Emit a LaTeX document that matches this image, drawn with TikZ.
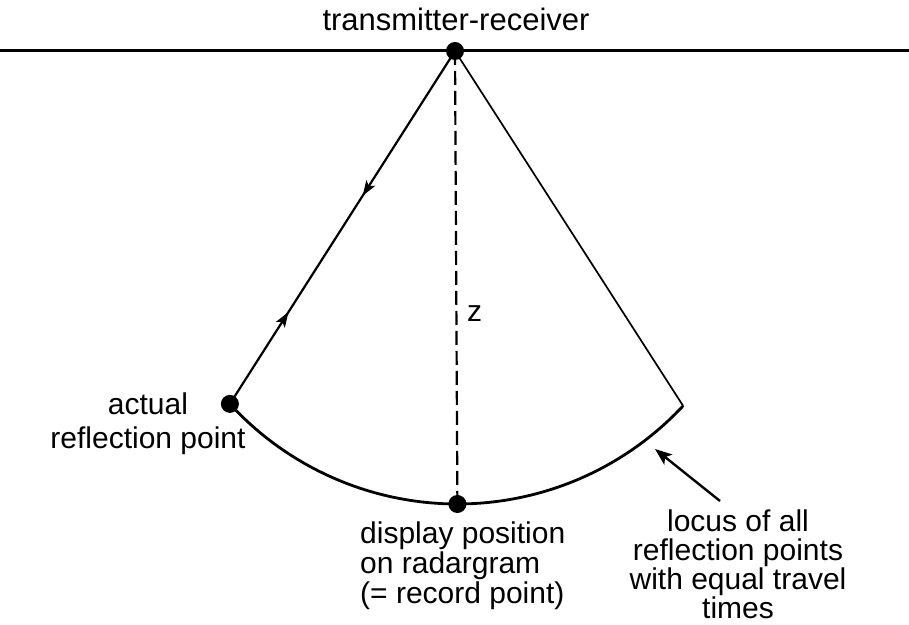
\documentclass[tikz,border=0pt]{standalone}
\usepackage{fontspec}
\setmainfont{Liberation Sans}
\usetikzlibrary{arrows.meta,decorations.markings,calc}
\begin{document}
\begin{tikzpicture}[x=1pt,y=1pt,
  lbl/.style={inner sep=0pt,font=\fontsize{30}{30}\selectfont},
  dotmark/.style={circle,fill=black,minimum size=18pt,inner sep=0pt},
  ray/.style={line width=2.2pt},
  hd/.tip={Stealth[length=15pt,width=10.5pt,inset=3.5pt]}
]
\useasboundingbox (0,0) rectangle (909,624);
% surface
\coordinate (SL) at (0,573);
\coordinate (SR) at (909,573);
\draw[line width=3pt] (SL) -- (SR);
% geometry
\coordinate (TR) at (455,573);
\coordinate (O) at (457.4,428.6);
\coordinate (A) at ($(O)+(222.5:308.6)$);
\coordinate (B) at ($(O)+(270:308.6)$);
\coordinate (C) at ($(O)+(317:308.6)$);
% arc (locus)
\draw[line width=2.8pt] (A) arc[start angle=222.5,end angle=317,radius=308.6];
% dashed vertical
\draw[line width=2.2pt,dash pattern=on 14pt off 6pt] (TR) -- (B);
% ray with arrows
\draw[ray,postaction={decorate},decoration={markings,
   mark=at position 0.41 with {\arrow{hd}},
   mark=at position 0.74 with {\arrowreversed{hd}}}] (TR) -- (A);
% right line
\draw[line width=1.7pt] (TR) -- (C);
% dots
\node[dotmark] (dTR) at (TR) {};
\node[dotmark] (dA) at (A) {};
\node[dotmark] (dB) at (B) {};
% labels
\node[lbl,anchor=base,font=\fontsize{31}{31}\selectfont] (tr) at (456,593) {transmitter-receiver};
\node[lbl,anchor=base] (z) at (474.5,302) {z};
\node[lbl,anchor=north,align=center,font=\fontsize{30}{34}\selectfont] (act) at (148,231) {actual\\reflection point};
\node[lbl,anchor=north west,align=left,font=\fontsize{30}{30}\selectfont] (disp) at (360,102) {display position\\on radargram\\(= record point)};
\node[lbl,anchor=north,align=center,font=\fontsize{30}{29}\selectfont] (loc) at (738,114) {locus of all\\reflection points\\with equal travel\\times};
% pointer arrow
\coordinate (P1) at (720,123);
\coordinate (P2) at (655,175);
\draw[line width=2.4pt,-{Stealth[length=17pt,width=13pt,inset=4pt]}] (P1) -- (P2);
\end{tikzpicture}
\end{document}
